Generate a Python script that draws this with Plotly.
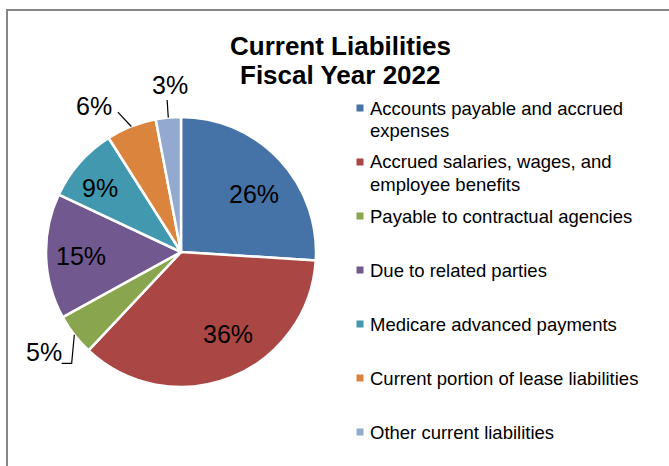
import math
import plotly.graph_objects as go

# Current liabilities, fiscal year 2022 (share of total, %)
categories = [
    "Accounts payable and accrued<br>expenses",
    "Accrued salaries, wages, and<br>employee benefits",
    "Payable to contractual agencies",
    "Due to related parties",
    "Medicare advanced payments",
    "Current portion of lease liabilities",
    "Other current liabilities",
]
shares = [26, 36, 5, 15, 9, 6, 3]
colors = ["#4572A7", "#AA4643", "#89A54E", "#71588F", "#4198AF", "#DB843D", "#93A9CF"]

W, H = 669, 466
FONT = "Liberation Sans, Arial, sans-serif"

# pie geometry in pixels
CX, CY, R = 181, 252, 135

# data-label placement: radial factor, pixel nudge, and leader-line points
# (relative to the label centre) for labels that sit outside the pie
LABEL_STYLE = [
    dict(k=0.70, nudge=(4, 7)),
    dict(k=0.70, nudge=(12.5, -5.5)),
    dict(k=1.25, nudge=(-4, -3), leader=[(28, 11), (18, 11)]),
    dict(k=0.70, nudge=(-5.5, 1.5)),
    dict(k=0.70, nudge=(-10, -2)),
    dict(k=1.25, nudge=(-25, 11), leader=[(24, 6)]),
    dict(k=1.25, nudge=(5, 1), leader=[(-3, 15)]),
]


def px(x):
    return x / W


def py(y):
    return 1 - y / H


fig = go.Figure(
    go.Pie(
        labels=[c.replace("<br>", " ") for c in categories],
        values=shares,
        sort=False,
        direction="clockwise",
        rotation=0,
        marker=dict(colors=colors, line=dict(color="white", width=2.5)),
        textinfo="none",
        hoverinfo="label+percent",
        showlegend=False,
        domain=dict(x=[px(CX - R), px(CX + R)], y=[py(CY + R), py(CY - R)]),
    )
)

annotations = []
shapes = []

# slice percentage labels, placed along each slice's mid-angle
total = sum(shares)
cum = 0
for v, st in zip(shares, LABEL_STYLE):
    mid = (cum + v / 2) / total * 2 * math.pi
    cum += v
    dx, dy = math.sin(mid), -math.cos(mid)
    lx = CX + st["k"] * R * dx + st["nudge"][0]
    ly = CY + st["k"] * R * dy + st["nudge"][1]
    if "leader" in st:
        pts = [(CX + R * dx, CY + R * dy)] + [(lx + ox, ly + oy) for ox, oy in st["leader"]]
        path = "M " + " L ".join(f"{px(x):.5f},{py(y):.5f}" for x, y in pts)
        shapes.append(dict(
            type="path", xref="paper", yref="paper", path=path,
            line=dict(color="black", width=1.2),
        ))
    annotations.append(dict(
        x=px(lx), y=py(ly), xref="paper", yref="paper",
        text=f"{v}%", showarrow=False, xanchor="center", yanchor="middle",
        font=dict(family=FONT, size=25, color="black"),
    ))

# title, two lines
for text, y in [("Current Liabilities", 46), ("Fiscal Year 2022", 75)]:
    annotations.append(dict(
        x=px(340), y=py(y), xref="paper", yref="paper", text=f"<b>{text}</b>",
        showarrow=False, xanchor="center", yanchor="middle",
        font=dict(family=FONT, size=26, color="black"),
    ))

# legend: square swatch + wrapped label per slice
LEG_X, LEG_Y0, LEG_STEP, LINE_STEP = 360, 108, 54, 22
for i, (name, col) in enumerate(zip(categories, colors)):
    y = LEG_Y0 + i * LEG_STEP
    shapes.append(dict(
        type="rect", xref="paper", yref="paper",
        x0=px(LEG_X - 3.5), x1=px(LEG_X + 3.5), y0=py(y + 3.5), y1=py(y - 3.5),
        fillcolor=col, line=dict(width=0),
    ))
    for j, line in enumerate(name.split("<br>")):
        annotations.append(dict(
            x=px(LEG_X + 8), y=py(y + j * LINE_STEP), xref="paper", yref="paper",
            text=line, showarrow=False, xanchor="left", yanchor="middle",
            font=dict(family=FONT, size=18.5, color="black"),
        ))

# chart-area border
shapes.append(dict(
    type="rect", xref="paper", yref="paper",
    x0=px(7), y0=-0.1, x1=1.1, y1=py(10),
    line=dict(color="#868686", width=2), fillcolor="rgba(0,0,0,0)",
))

fig.update_layout(
    width=W, height=H,
    margin=dict(l=0, r=0, t=0, b=0),
    paper_bgcolor="white", plot_bgcolor="white",
    annotations=annotations, shapes=shapes,
)

fig.write_html("out.html")
